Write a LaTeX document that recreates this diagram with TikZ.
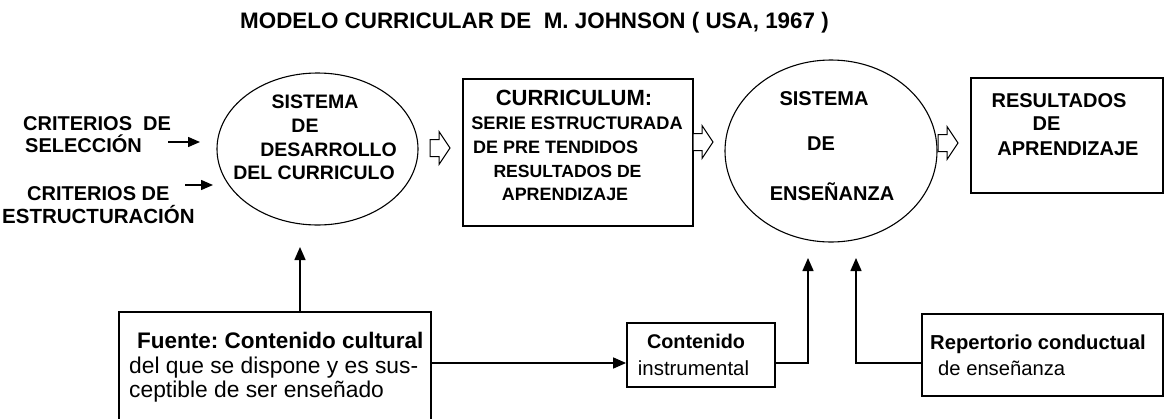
\documentclass[tikz,border=0pt]{standalone}
\usepackage{fontspec}
\setmainfont{Liberation Sans}
\usetikzlibrary{arrows.meta,calc,shapes.geometric}
\frenchspacing
\newcommand{\fsz}[1]{\fontsize{#1}{#1}\selectfont}
\newcommand{\hollowarr}[2]{\draw[hollowtip] (#1,#2-8.5) -- (#1+9,#2-8.5) -- (#1+9,#2-16.5) -- (#1+20,#2) -- (#1+9,#2+16.5) -- (#1+9,#2+8.5) -- (#1,#2+8.5) -- cycle;}
\tikzset{
  txtc/.style={inner sep=0pt, anchor=base},
  txtw/.style={inner sep=0pt, anchor=base west},
  bfs/.style={font=\fsz{#1}\bfseries},
  rgs/.style={font=\fsz{#1}},
  ell/.style={draw, ellipse, line width=1.1pt, inner sep=0pt},
  boxx/.style={draw, rectangle, line width=1.8pt, inner sep=0pt},
  conn/.style={line width=1.5pt, -{Triangle[length=13pt,width=11pt]}},
  hollowtip/.style={draw, line width=1pt, fill=white},
}
\begin{document}
\begin{tikzpicture}[x=1pt,y=-1pt]
\fill[white] (0,0) rectangle (1164,418);
\useasboundingbox (0,0) rectangle (1164,418);

% title
\node[txtc, bfs=22.4] (title) at (534.5,28) {MODELO CURRICULAR DE\ \ M. JOHNSON ( USA, 1967 )};

% left labels
\node[txtw, bfs=20] (c1a) at (23,130) {CRITERIOS\ \ DE};
\node[txtw, bfs=20] (c1b) at (25,152) {SELECCIÓN};
\node[txtw, bfs=20] (c2a) at (27,200) {CRITERIOS DE};
\node[txtw, bfs=20.5] (c2b) at (2,223) {ESTRUCTURACIÓN};

% ellipse 1
\node[ell, minimum width=201pt, minimum height=152pt] (e1) at (317.5,149) {};
\node[txtc, bfs=19.5] (e1a) at (315,108) {SISTEMA};
\node[txtc, bfs=19.5] (e1b) at (305,132) {DE};
\node[txtc, bfs=19.5] (e1c) at (328.5,156) {DESARROLLO};
\node[txtc, bfs=19.5] (e1d) at (314,179) {DEL CURRICULO};

% criteria arrows
\coordinate (s1) at (168,142);
\coordinate (t1) at (200,142);
\coordinate (s2) at (185,185);
\coordinate (t2) at (213,185);
\draw[line width=1.5pt, -{Triangle[length=12pt,width=10pt]}] (s1) -- (t1);
\draw[line width=1.5pt, -{Triangle[length=12pt,width=10pt]}] (s2) -- (t2);

% box curriculum
\node[boxx, minimum width=230pt, minimum height=147pt] (b1) at (578,152.5) {};
\node[txtc, bfs=22] (b1a) at (574,105) {CURRICULUM:};
\node[txtc, bfs=18.2] (b1b) at (577,129) {SERIE ESTRUCTURADA};
\node[txtw, bfs=18] (b1c) at (473,153) {DE PRE TENDIDOS};
\node[txtc, bfs=17.6] (b1d) at (567.5,177) {RESULTADOS DE};
\node[txtc, bfs=17.9] (b1e) at (565,200) {APRENDIZAJE};

% ellipse 2
\node[ell, minimum width=212pt, minimum height=182pt] (e2) at (831,151) {};
\node[txtc, bfs=20] (e2a) at (824,105) {SISTEMA};
\node[txtc, bfs=20] (e2b) at (821,150) {DE};
\node[txtc, bfs=20] (e2c) at (832,200) {ENSEÑANZA};

% box results
\node[boxx, minimum width=192pt, minimum height=115pt] (b2) at (1067,135.5) {};
\node[txtc, bfs=20] (b2a) at (1059,107) {RESULTADOS};
\node[txtc, bfs=20] (b2b) at (1046.5,130) {DE};
\node[txtc, bfs=20] (b2c) at (1068,155) {APRENDIZAJE};

% hollow arrows
\hollowarr{430}{148}
\hollowarr{693}{142}
\hollowarr{938}{143}

% bottom boxes
\node[boxx, minimum width=312pt, minimum height=130pt] (f) at (275,377) {};
\node[txtw, bfs=22.5] (fa) at (137,348) {Fuente: Contenido cultural};
\node[txtw, rgs=22.8] (fb) at (129,373) {del que se dispone y es sus-};
\node[txtw, rgs=22.8] (fc) at (129,397) {ceptible de ser enseñado};

\node[boxx, minimum width=148pt, minimum height=64pt] (ci) at (701,355) {};
\node[txtc, bfs=19.8] (cia) at (696,348) {Contenido};
\node[txtc, rgs=20.4] (cib) at (693.5,375) {instrumental};

\node[boxx, minimum width=241pt, minimum height=82pt] (rc) at (1042.5,355) {};
\node[txtw, bfs=20.2] (rca) at (930,349) {Repertorio conductual};
\node[txtw, rgs=20.2] (rcb) at (938,375) {de enseñanza};

% connectors
\coordinate (u1) at (300,247);
\coordinate (u2) at (808,258);
\coordinate (u3) at (856,258);
\draw[conn] (f.north -| u1) -- (u1);
\draw[conn] (f.east |- 0,363) -- (ci.west |- 0,363);
\draw[conn] (ci.east |- 0,363) -- (u2 |- 0,363) -- (u2);
\draw[conn] (rc.west |- 0,363) -- (u3 |- 0,363) -- (u3);
\end{tikzpicture}
\end{document}
